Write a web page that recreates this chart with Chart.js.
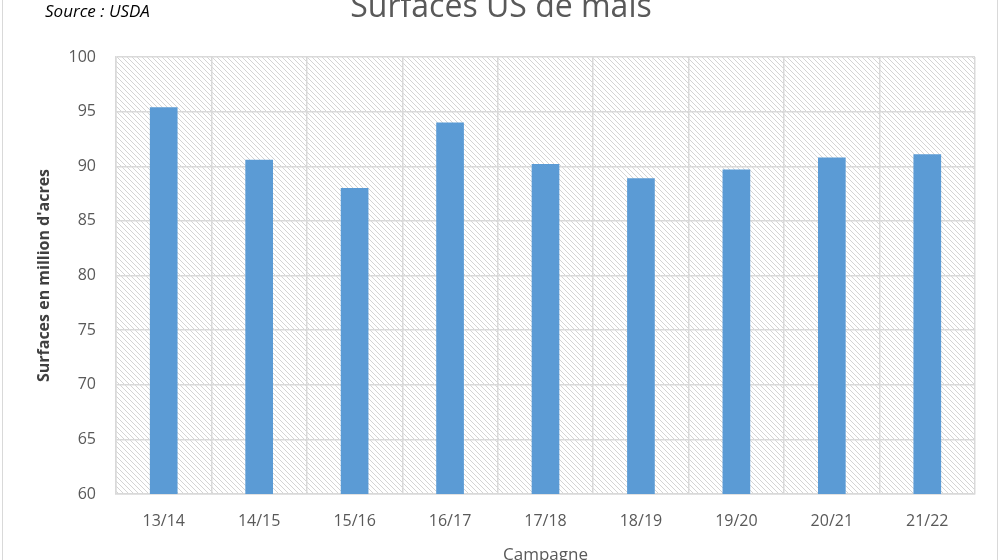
<!DOCTYPE html>
<html>
<head>
<meta charset="utf-8">
<script src="https://cdn.jsdelivr.net/npm/chart.js@4"></script>
<style>
    html, body { margin: 0; padding: 0; background: #fff; }
    #wrap { position: relative; width: 1000px; height: 560px; overflow: hidden; }
    #frame { position: absolute; left: 2px; top: -2px; width: 996px; height: 563px; border: 1px solid #d9d9d9; box-sizing: border-box; pointer-events: none; }
    canvas { display: block; }
</style>
</head>
<body>
<div id="wrap">
    <canvas id="chart" width="1000" height="560"></canvas>
    <div id="frame"></div>
</div>
<script>
const campagnes = ['13/14', '14/15', '15/16', '16/17', '17/18', '18/19', '19/20', '20/21', '21/22'];
const surfaces = [95.4, 90.6, 88.0, 94.0, 90.2, 88.9, 89.7, 90.8, 91.1];
const yTicks = [60, 65, 70, 75, 80, 85, 90, 95, 100];

const fontFamily = '"Open Sans", "Liberation Sans", sans-serif';
const grey = '#595959';
const gridColor = '#d9d9d9';

// motif hachuré du fond de la zone de tracé
function makeHatch() {
    const c = document.createElement('canvas');
    c.width = 5;
    c.height = 5;
    const g = c.getContext('2d');
    g.strokeStyle = '#d4d4d4';
    g.lineWidth = 1;
    g.beginPath();
    g.moveTo(-1, -1); g.lineTo(6, 6);
    g.moveTo(-1, 4); g.lineTo(1, 6);
    g.moveTo(4, -1); g.lineTo(6, 1);
    g.stroke();
    return c;
}

const hatchPlugin = {
    id: 'hatch',
    beforeDraw(chart) {
        const { ctx, chartArea: a } = chart;
        ctx.save();
        ctx.fillStyle = ctx.createPattern(makeHatch(), 'repeat');
        ctx.fillRect(a.left, a.top, a.right - a.left, a.bottom - a.top);
        ctx.restore();
    }
};

// titres coupés par le cadre de l'image
const textPlugin = {
    id: 'texts',
    afterDraw(chart) {
        const ctx = chart.ctx;
        const a = chart.chartArea;
        ctx.save();
        ctx.fillStyle = '#000';
        ctx.font = 'italic 17px ' + fontFamily;
        ctx.textBaseline = 'alphabetic';
        ctx.textAlign = 'left';
        ctx.fillText('Source : USDA', 45, 17);
        ctx.fillStyle = grey;
        ctx.font = '32px ' + fontFamily;
        ctx.textAlign = 'center';
        ctx.fillText('Surfaces US de maïs', 501, 17);
        ctx.font = '17px ' + fontFamily;
        ctx.textBaseline = 'middle';
        ctx.fillText('Campagne', (a.left + a.right) / 2, 555);
        ctx.restore();
    }
};

new Chart(document.getElementById('chart'), {
    type: 'bar',
    data: {
        labels: campagnes,
        datasets: [{
            label: 'Surfaces',
            data: surfaces,
            backgroundColor: '#5b9bd5',
            borderWidth: 0,
            barPercentage: 0.29,
            categoryPercentage: 1
        }]
    },
    options: {
        responsive: false,
        animation: false,
        layout: { padding: { top: 57, right: 25, left: 35, bottom: 0 } },
        plugins: {
            legend: { display: false },
            tooltip: { enabled: false }
        },
        scales: {
            x: {
                grid: { color: gridColor, lineWidth: 1.5, drawTicks: false, offset: true },
                border: { color: gridColor, width: 1.5 },
                ticks: { color: grey, font: { family: fontFamily, size: 16 }, padding: 18 },
                afterFit(scale) { scale.height = 66; }
            },
            y: {
                min: 60,
                max: 100,
                afterBuildTicks(scale) { scale.ticks = yTicks.map(v => ({ value: v })); },
                grid: { color: gridColor, lineWidth: 1.5, drawTicks: false },
                border: { color: gridColor, width: 1.5 },
                ticks: { color: grey, font: { family: fontFamily, size: 16 }, padding: 20 },
                title: { display: true, text: "Surfaces en million d'acres", color: '#404040', font: { family: fontFamily, size: 16, weight: 'bold' }, padding: 0 },
                afterFit(scale) { scale.width = 81; }
            }
        }
    },
    plugins: [hatchPlugin, textPlugin]
});
</script>
</body>
</html>
